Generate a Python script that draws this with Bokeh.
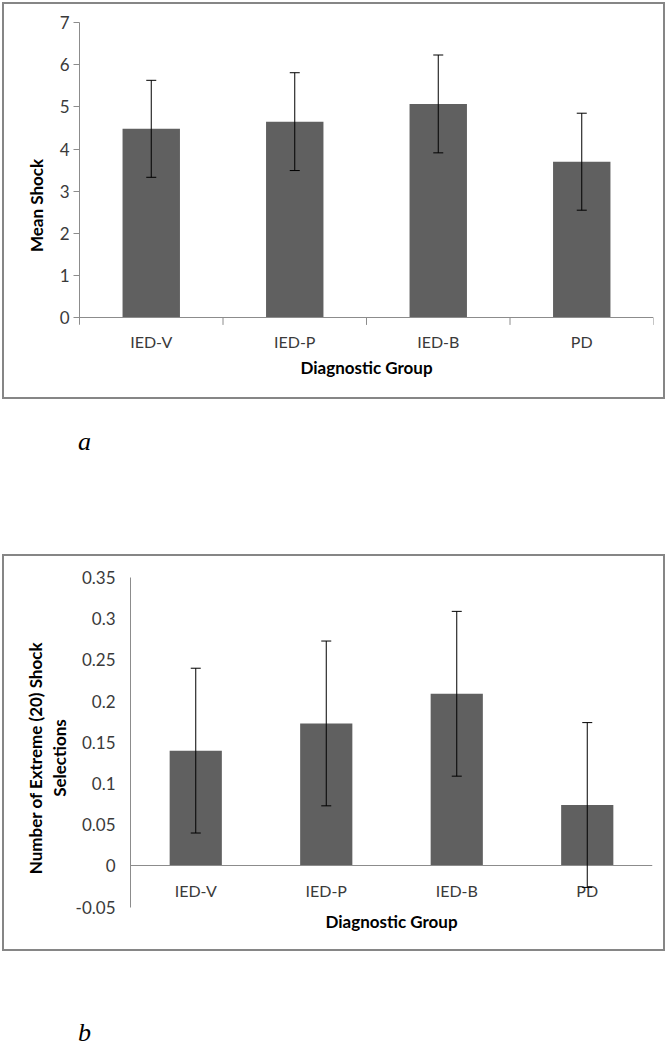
from bokeh.plotting import figure
from bokeh.models import (ColumnDataSource, Whisker, TeeHead, FixedTicker, Range1d,
                          FactorRange, Div, NumeralTickFormatter)
from bokeh.embed import file_html
from bokeh.resources import INLINE

# ---- data ----
groups = ["IED-V", "IED-P", "IED-B", "PD"]
mean_shock = [4.48, 4.65, 5.07, 3.70]
mean_shock_err = [1.15, 1.16, 1.16, 1.15]
extreme_sel = [0.140, 0.173, 0.209, 0.074]
extreme_sel_err = [0.100, 0.100, 0.100, 0.100]
yticks_a = [0, 1, 2, 3, 4, 5, 6, 7]
yticks_b = [-0.05, 0, 0.05, 0.1, 0.15, 0.2, 0.25, 0.3, 0.35]

FONT = "Lato"
BAR = "#606060"
AXIS = "#8c8c8c"
TICKTXT = "#3a3a3a"
W, H = 663, 397          # outer size, including a 2px border
BORDER = {"border": "2px solid #868686"}


def style(p):
    p.grid.visible = False
    p.outline_line_color = None
    p.background_fill_color = "white"
    p.border_fill_color = "white"
    for ax in (p.xaxis, p.yaxis):
        ax.axis_line_color = AXIS
        ax.major_label_text_font = FONT
        ax.major_label_text_color = TICKTXT
        ax.axis_label_text_font = FONT
        ax.axis_label_text_font_style = "bold"
        ax.axis_label_text_font_size = "17px"
        ax.axis_label_text_color = "black"
        ax.minor_tick_line_color = None
    p.xaxis.major_label_text_font_size = "16px"
    p.yaxis.major_label_text_font_size = "17px"
    p.xaxis.major_tick_line_color = None
    p.xaxis.fixed_location = 0
    p.xaxis.axis_label = "Diagnostic Group"


def bars(p, vals, errs):
    src = ColumnDataSource(dict(cat=groups, val=vals,
                                upper=[v + e for v, e in zip(vals, errs)],
                                lower=[v - e for v, e in zip(vals, errs)]))
    p.vbar(x="cat", top="val", width=0.4, source=src,
           fill_color=BAR, line_color=None)
    w = Whisker(base="cat", upper="upper", lower="lower", source=src,
                line_color="black", line_width=1, level="annotation",
                upper_head=TeeHead(size=10, line_color="black", line_width=1),
                lower_head=TeeHead(size=10, line_color="black", line_width=1))
    p.add_layout(w)


# ---- chart a ----
ya_tick = -0.17          # depth of category-boundary ticks (data units)
pa = figure(width=W, height=H, x_range=FactorRange(*groups),
            y_range=Range1d(-1.678, 7.001), output_backend="svg",
            toolbar_location=None, min_border_left=75, min_border_right=14,
            min_border_top=18, min_border_bottom=13,
            styles=BORDER, margin=(2, 0, 0, 2))
style(pa)
pa.yaxis.axis_label = "Mean Shock"
pa.yaxis.ticker = FixedTicker(ticks=yticks_a)
pa.yaxis.bounds = (ya_tick, 7)
pa.yaxis.major_tick_out = 6
pa.yaxis.major_tick_in = 0
pa.yaxis.major_tick_line_color = AXIS
pa.yaxis.major_label_standoff = 4
pa.yaxis.axis_label_standoff = 10
pa.xaxis.major_label_standoff = 8
pa.xaxis.axis_label_standoff = 3
bars(pa, mean_shock, mean_shock_err)
tick_src = ColumnDataSource(dict(x=[(c, -0.5) for c in groups] + [(groups[-1], 0.5)]))
pa.segment(x0="x", y0=0, x1="x", y1=ya_tick, source=tick_src,
           line_color=AXIS, line_width=1)

# ---- chart b ----
pb = figure(width=W, height=H, x_range=FactorRange(*groups),
            y_range=Range1d(-0.088, 0.3501), output_backend="svg",
            toolbar_location=None, min_border_left=126, min_border_right=15,
            min_border_top=21, min_border_bottom=15,
            styles=BORDER, margin=(0, 0, 0, 2))
style(pb)
pb.yaxis.axis_label = "Number of Extreme (20) Shock\nSelections"
pb.yaxis.axis_label_text_line_height = 1.1
pb.yaxis.ticker = FixedTicker(ticks=yticks_b)
pb.yaxis.bounds = (-0.05, 0.35)
pb.yaxis.formatter = NumeralTickFormatter(format="0.[00]")
pb.yaxis.major_tick_line_color = None
pb.yaxis.major_label_standoff = 9
pb.yaxis.axis_label_standoff = 3
pb.xaxis.major_label_standoff = 9
pb.xaxis.axis_label_standoff = 8
bars(pb, extreme_sel, extreme_sel_err)

# ---- panel letters ----
lab_a_style = ("position:relative;left:76px;font-family:'Liberation Serif';"
               "font-style:italic;font-size:26px;line-height:0;color:#000;")
lab_b_style = ("position:relative;left:76px;font-family:'Liberation Serif';"
               "font-style:italic;font-size:26px;line-height:1;color:#000;")
div_a = Div(text=f'<div style="{lab_a_style}top:39px">a</div>',
            width=663, height=155, margin=(0, 0, 0, 2))
div_b = Div(text=f'<div style="{lab_b_style}top:69px">b</div>',
            width=663, height=99, margin=(0, 0, 0, 2))

open("out.html", "w").write(file_html([pa, div_a, pb, div_b], INLINE))
